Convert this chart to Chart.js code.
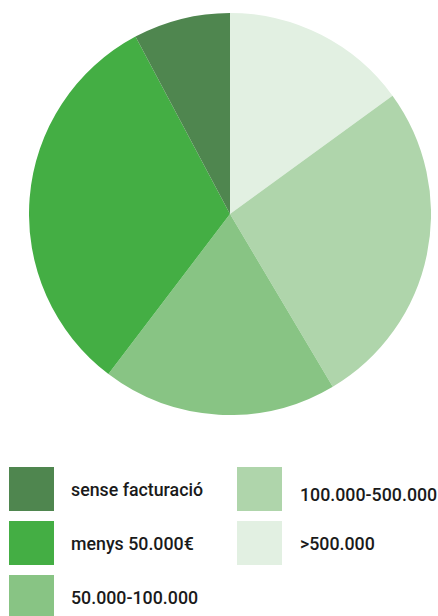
<!DOCTYPE html>
<html>
<head>
<meta charset="utf-8">
<script src="https://cdn.jsdelivr.net/npm/chart.js@4"></script>
<style>
    html, body { margin: 0; padding: 0; background: #fff; }
    body { width: 438px; height: 616px; position: relative; overflow: hidden; font-family: Roboto, "Open Sans", sans-serif; }
    #chartBox { position: absolute; left: 29px; top: 13px; width: 402px; height: 402px; }
    #legend { position: absolute; left: 9px; top: 467px; width: 429px; }
    .legend-item { position: absolute; left: 0; height: 44px; display: flex; align-items: center; white-space: nowrap; }
    .legend-box { width: 45px; height: 44px; flex: none; }
    .legend-text { font-size: 17.8px; font-weight: 500; color: #1a1a1a; }
</style>
</head>
<body>
<div id="chartBox"><canvas id="pieChart"></canvas></div>
<div id="legend"></div>
<script>
const categories = ["sense facturació", "menys 50.000€", "50.000-100.000", "100.000-500.000", ">500.000"];
const values = [7.8, 31.9, 18.9, 26.5, 15.0];
const colors = ["#4f864f", "#44ae44", "#88c484", "#afd5ab", "#e2f0e2"];

// pie runs clockwise from the top, starting with the last category
const pieLabels = categories.slice().reverse();
const pieValues = values.slice().reverse();
const pieColors = colors.slice().reverse();

new Chart(document.getElementById("pieChart"), {
    type: "pie",
    data: {
        labels: pieLabels,
        datasets: [
            {
                data: pieValues,
                backgroundColor: pieColors,
                borderWidth: 0,
            },
        ],
    },
    options: {
        responsive: true,
        maintainAspectRatio: false,
        animation: false,
        layout: { padding: 0 },
        plugins: {
            legend: { display: false },
            tooltip: { enabled: false },
        },
    },
});

function renderLegend() {
    const legend = document.getElementById("legend");
    categories.forEach((name, i) => {
        const col = i < 3 ? 0 : 1;
        const row = i < 3 ? i : i - 3;
        const item = document.createElement("div");
        item.className = "legend-item";
        item.style.left = col === 0 ? "0px" : "228px";
        item.style.top = row * 54 + "px";
        const gap = col === 0 ? 17 : 18;
        // first item of the second column sits a little lower than its box
        const shift = i === 3 ? 5 : 0;
        item.innerHTML = `
            <div class="legend-box" style="background:${colors[i]}"></div>
            <div class="legend-text" style="margin-left:${gap}px; position:relative; top:${shift}px">${name}</div>
        `;
        legend.appendChild(item);
    });
}

renderLegend();
</script>
</body>
</html>
